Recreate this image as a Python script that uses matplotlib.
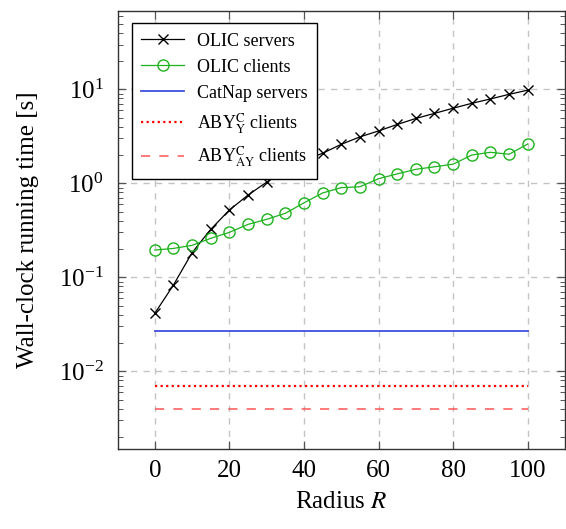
import matplotlib
matplotlib.use("Agg")
import matplotlib.pyplot as plt
from matplotlib.ticker import LogLocator, LogFormatterMathtext, NullFormatter, MultipleLocator

plt.rcParams['font.family'] = ['Liberation Serif', 'DejaVu Serif']
plt.rcParams['mathtext.fontset'] = 'stix'

radius = [0, 5, 10, 15, 20, 25, 30, 35, 40, 45, 50, 55, 60, 65, 70, 75, 80, 85, 90, 95, 100]
olic_servers = [0.0414, 0.0828, 0.183, 0.324, 0.52, 0.75, 1.03, 1.38, 1.75, 2.09, 2.6, 3.12,
                3.61, 4.23, 4.9, 5.55, 6.3, 7.1, 7.9, 8.85, 9.8]
olic_clients = [0.195, 0.203, 0.219, 0.26, 0.301, 0.366, 0.414, 0.48, 0.62, 0.79, 0.90, 0.92,
                1.12, 1.26, 1.41, 1.50, 1.60, 2.0, 2.14, 2.04, 2.62]
catnap_x = [0, 100]
catnap_servers = [0.0268, 0.0268]
aby_y_clients = [0.00698, 0.00698]
aby_ay_clients = [0.00398, 0.00398]

fig = plt.figure(figsize=(5.66, 5.29), dpi=100)
ax = fig.add_axes([117.5/566, 1-448.5/529, (565-117.5)/566, (448.5-10.5)/529])

ax.plot(radius, olic_servers, color='black', lw=0.9, marker='x', ms=6.5, mew=1.0,
        label='OLIC servers', zorder=5)
ax.plot(radius, olic_clients, color='#1db31d', lw=0.9, marker='o', ms=8, mfc='none', mew=1.0,
        label='OLIC clients', zorder=5)
ax.plot(catnap_x, catnap_servers, color='#4050e0', lw=1.3, label='CatNap servers', zorder=4)
ax.plot(catnap_x, aby_y_clients, color='red', lw=1.6, ls=(0, (1, 1.5)),
        label=r'ABY$^{\mathrm{C}}_{\mathrm{Y}}$ clients', zorder=4)
ax.plot(catnap_x, aby_ay_clients, color='#ff5555', lw=1.1, ls=(0, (6, 6)),
        label=r'ABY$^{\mathrm{C}}_{\mathrm{AY}}$ clients', zorder=4)

ax.set_yscale('log')
ax.set_xlim(-10, 110)
ax.set_ylim(1.51e-3, 69)
ax.xaxis.set_major_locator(MultipleLocator(20))
ax.yaxis.set_major_locator(LogLocator(base=10, numticks=10))
ax.yaxis.set_minor_locator(LogLocator(base=10, subs=range(2, 10), numticks=20))
ax.yaxis.set_major_formatter(LogFormatterMathtext())
ax.yaxis.set_minor_formatter(NullFormatter())

ax.grid(True, which='major', color='#c4c4c4', ls=(0, (4.5, 4.5)), lw=1.0)
ax.set_axisbelow(True)

ax.tick_params(axis='both', which='both', direction='in', top=True, right=True,
               color='#555555', labelsize=18)
ax.tick_params(which='major', length=6, width=0.9)
ax.tick_params(which='minor', length=3.5, width=0.7)
ax.tick_params(axis='x', pad=8)
ax.tick_params(axis='y', pad=10)
for s in ax.spines.values():
    s.set_linewidth(1.0)
    s.set_color('#333333')

ax.set_xlabel(r'Radius $R$', fontsize=18, labelpad=7)
ax.set_ylabel('Wall-clock running time [s]', fontsize=18, labelpad=14)

leg = ax.legend(loc='upper left', bbox_to_anchor=(0.0317, 0.9708), borderaxespad=0,
                fontsize=13, frameon=True, fancybox=False, edgecolor='black',
                framealpha=1, handlelength=2.4, handletextpad=0.7, labelspacing=0.5,
                borderpad=0.52)
leg.get_frame().set_linewidth(1.0)

fig.savefig('out.png', dpi=100)
